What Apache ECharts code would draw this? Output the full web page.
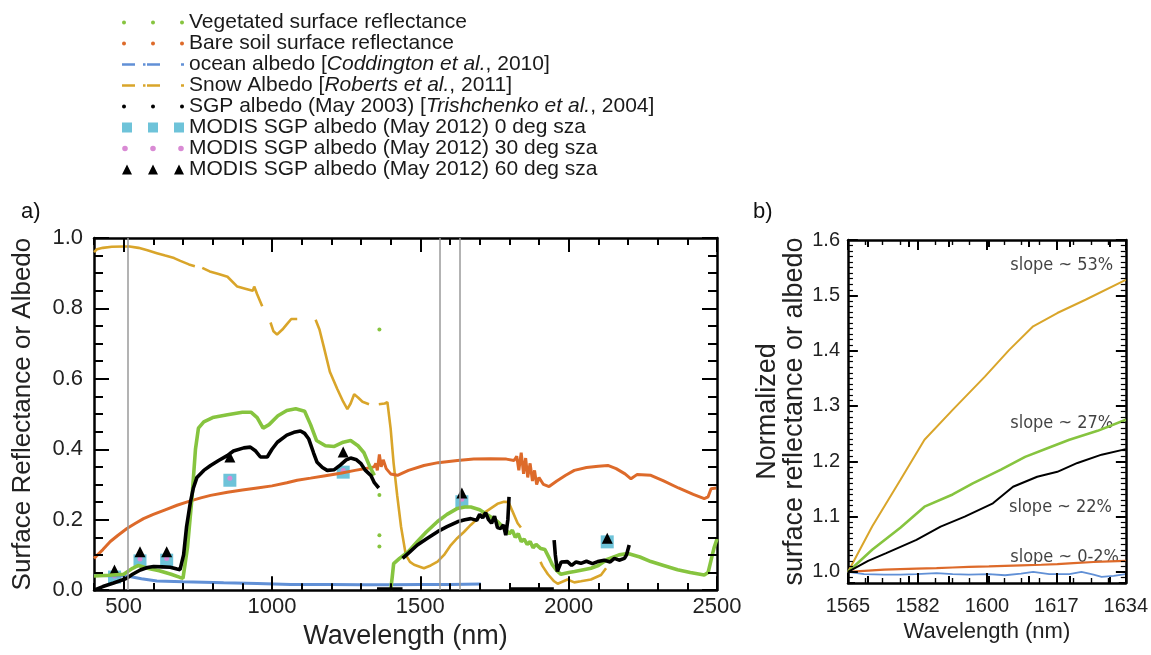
<!DOCTYPE html>
<html>
<head>
<meta charset="utf-8">
<title>Surface reflectance and albedo</title>
<script src="https://cdn.jsdelivr.net/npm/echarts@6/dist/echarts.min.js"></script>
<style>
  html, body { margin: 0; padding: 0; background: #fff; }
  #chart { width: 1151px; height: 655px; }
</style>
</head>
<body>
<div id="chart"></div>
<script>
// ---------- panel a: spectra [wavelength nm, value], null = gap ----------
const vegetated = [
  [400,0.040],[450,0.042],[500,0.045],[530,0.062],[550,0.070],[580,0.062],[620,0.055],[660,0.045],
  [690,0.036],[700,0.034],[715,0.12],[730,0.26],[742,0.40],[752,0.46],[770,0.478],[800,0.49],
  [850,0.498],[900,0.505],[930,0.505],[950,0.49],[970,0.46],[990,0.47],[1020,0.495],[1050,0.51],
  [1080,0.515],[1110,0.508],[1130,0.47],[1150,0.425],[1180,0.41],[1210,0.408],[1240,0.42],
  [1265,0.425],[1290,0.41],[1310,0.39],[1330,0.35],[1345,0.326],[1350,null],
  [1400,0.0],[1405,0.035],[1410,0.075],[1430,0.09],[1460,0.11],[1490,0.138],[1520,0.165],
  [1558,0.195],[1590,0.215],[1625,0.232],[1650,0.236],[1670,0.236],[1700,0.228],[1730,0.212],
  [1760,0.195],[1790,0.17],[1800,0.16],[1810,0.17],[1820,0.15],[1830,0.16],[1840,0.138],
  [1850,0.145],[1860,0.13],[1870,0.138],[1880,0.12],[1890,0.13],[1906,0.118],[1920,0.115],
  [1935,0.09],[1945,0.072],[1960,0.055],[1974,0.045],[2000,0.05],[2020,0.053],[2050,0.058],
  [2075,0.062],[2100,0.07],[2132,0.088],[2170,0.1],[2200,0.104],[2240,0.094],[2277,0.081],
  [2320,0.07],[2367,0.058],[2410,0.05],[2457,0.043],[2470,0.05],[2480,0.085],[2490,0.12],[2500,0.145]
];
const vegetatedDots = [[1362,0.74],[1362,0.27],[1362,0.156],[1362,0.124]];

const bareSoil = [
  [400,0.09],[430,0.115],[455,0.138],[480,0.155],[511,0.175],[540,0.19],[567,0.203],[600,0.215],
  [640,0.228],[680,0.241],[720,0.252],[760,0.262],[793,0.269],[850,0.278],[900,0.284],[950,0.29],
  [1000,0.296],[1050,0.305],[1085,0.312],[1130,0.318],[1180,0.325],[1231,0.332],[1280,0.34],
  [1320,0.346],[1344,0.35],[1350,0.36],[1355,0.34],[1362,0.385],[1368,0.35],[1375,0.37],
  [1385,0.345],[1400,0.33],[1423,0.326],[1460,0.34],[1512,0.354],[1560,0.362],[1625,0.368],
  [1680,0.372],[1737,0.373],[1790,0.372],[1816,0.368],[1825,0.38],[1832,0.34],[1840,0.39],
  [1848,0.33],[1855,0.375],[1862,0.32],[1870,0.36],[1878,0.31],[1885,0.34],[1892,0.3],[1900,0.32],
  [1915,0.3],[1934,0.294],[1960,0.31],[1990,0.326],[2019,0.34],[2060,0.348],[2100,0.352],
  [2132,0.354],[2160,0.345],[2190,0.33],[2210,0.316],[2230,0.328],[2277,0.326],[2320,0.31],
  [2370,0.29],[2420,0.272],[2457,0.26],[2470,0.265],[2480,0.288],[2497,0.29]
];

const oceanAlbedo = [
  [400,0.042],[450,0.041],[511,0.04],[560,0.032],[612,0.026],[700,0.024],[837,0.021],[950,0.019],
  [1063,0.016],[1200,0.016],[1300,0.015],[1400,0.015],[1500,0.016],[1600,0.016],[1704,0.017]
];

const snowAlbedo = [
  [400,0.96],[410,0.968],[430,0.972],[460,0.975],[500,0.976],[520,0.976],[550,0.972],[580,0.965],
  [612,0.957],[640,0.95],[670,0.943],[691,0.935],[720,0.925],[740,0.92],[750,null],[765,0.915],
  [790,0.905],[820,0.898],[850,0.89],[883,0.862],[910,0.856],[935,0.85],[940,0.862],[950,0.84],
  [967,0.806],[975,null],[995,0.76],[1005,0.735],[1017,0.726],[1035,0.74],[1051,0.756],[1065,0.77],
  [1085,0.77],[1095,null],[1147,0.768],[1160,0.74],[1174,0.693],[1195,0.62],[1220,0.571],
  [1240,0.535],[1254,0.514],[1265,0.53],[1277,0.556],[1290,0.547],[1305,0.535],[1327,0.528],
  [1335,null],[1360,0.528],[1380,0.53],[1389,0.534],[1400,0.458],[1410,0.36],[1422,0.269],
  [1435,0.18],[1451,0.1],[1465,0.08],[1479,0.072],[1512,0.062],[1535,0.07],[1558,0.081],[1580,0.1],
  [1603,0.128],[1625,0.148],[1647,0.165],[1670,0.185],[1693,0.203],[1720,0.222],[1760,0.245],
  [1782,0.251],[1797,0.25],[1810,0.225],[1828,0.19],[1839,0.178],[1845,null],[1905,0.08],
  [1912,0.068],[1930,0.045],[1951,0.025],[1963,0.018],[1996,0.03],[2019,0.022],[2041,0.025],
  [2075,0.03],[2109,0.043],[2126,0.062]
];

const sgpAlbedo = [
  [400,0.0],[430,0.01],[466,0.02],[500,0.03],[511,0.034],[530,0.045],[556,0.057],[580,0.064],
  [601,0.067],[630,0.066],[657,0.065],[680,0.06],[690,0.058],[702,0.1],[712,0.18],[725,0.25],
  [735,0.29],[747,0.32],[770,0.34],[793,0.354],[820,0.368],[849,0.382],[870,0.395],[905,0.404],
  [927,0.406],[945,0.395],[961,0.378],[984,0.378],[1000,0.4],[1018,0.42],[1050,0.44],[1074,0.448],
  [1096,0.452],[1110,0.445],[1124,0.429],[1140,0.39],[1152,0.363],[1170,0.348],[1186,0.34],
  [1210,0.342],[1230,0.355],[1250,0.37],[1265,0.375],[1285,0.37],[1299,0.36],[1315,0.34],
  [1333,0.326],[1345,0.305],[1360,0.29],[1361,null],
  [1354,0.003],[1440,0.003],[1441,null],
  [1440,0.09],[1460,0.105],[1490,0.128],[1520,0.145],[1558,0.166],[1590,0.18],[1625,0.194],
  [1650,0.2],[1670,0.203],[1690,0.198],[1700,0.215],[1710,0.205],[1720,0.22],[1730,0.2],
  [1740,0.19],[1750,0.21],[1760,0.178],[1771,0.175],[1780,0.185],[1788,0.156],[1795,0.2],
  [1799,0.265],[1800,null],
  [1800,0.003],[1950,0.003],[1951,null],
  [1951,0.142],[1955,0.1],[1962,0.053],[1975,0.08],[1996,0.081],[2010,0.07],[2025,0.08],
  [2041,0.076],[2060,0.082],[2080,0.075],[2098,0.081],[2120,0.085],[2140,0.08],[2154,0.09],
  [2170,0.085],[2188,0.09],[2195,0.1],[2204,0.128]
];

const modisBands = [469, 555, 645, 858, 1240, 1640, 2130];
const modisSza0  = [0.037, 0.083, 0.085, 0.312, 0.335, 0.251, 0.137];
const modisSza30 = [0.040, 0.088, 0.090, 0.318, 0.340, 0.258, 0.140];
const modisSza60 = [0.057, 0.109, 0.109, 0.378, 0.392, 0.276, 0.147];

const markWavelengths = [515, 1565, 1634];
const xMajorTicksA = [500, 1000, 1500, 2000, 2500];

// ---------- panel b: normalized values 1565-1634 nm ----------
const snowNorm = [
  [1565,1.0],[1571,1.082],[1578,1.166],[1584,1.239],[1591,1.293],[1599,1.353],[1605,1.401],
  [1611,1.444],[1617,1.468],[1624,1.492],[1634,1.528]
];
const vegNorm = [
  [1565,1.0],[1571,1.04],[1578,1.08],[1584,1.118],[1591,1.14],[1596,1.16],[1603,1.185],
  [1609,1.208],[1615,1.225],[1620,1.239],[1627,1.255],[1634,1.275]
];
const sgpNorm = [
  [1565,1.0],[1570,1.02],[1574.5,1.034],[1582,1.058],[1588,1.082],[1594,1.1],[1601,1.124],
  [1606,1.154],[1612,1.172],[1617,1.181],[1622,1.197],[1628,1.212],[1634,1.222]
];
const soilNorm = [
  [1565,1.0],[1569,1.002],[1574,1.004],[1578,1.005],[1582,1.006],[1587,1.007],[1591,1.008],
  [1595,1.009],[1600,1.01],[1604,1.011],[1608,1.012],[1613,1.013],[1617,1.014],[1621,1.016],
  [1626,1.018],[1630,1.019],[1634,1.02]
];
const oceanNorm = [
  [1565,1.0],[1569,0.996],[1574,0.995],[1578,0.995],[1582,0.996],[1587,0.998],[1591,0.996],
  [1595,0.995],[1600,0.996],[1604,0.994],[1608,0.997],[1611,1.0],[1615,0.996],[1620,0.996],
  [1623,1.0],[1626,0.995],[1628,0.991],[1631,0.993],[1634,0.996]
];
const slopeNotes = [
  [1605.3, 1.555, 'slope ~ 53%'],
  [1605.3, 1.268, 'slope ~ 27%'],
  [1605.0, 1.116, 'slope ~ 22%'],
  [1605.3, 1.027, 'slope ~ 0-2%']
];
const xMajorTicksB = [1565, 1582.25, 1599.5, 1616.75, 1634];
const yMajorTicksB = [1.0, 1.1, 1.2, 1.3, 1.4, 1.5, 1.6];

// tick positions for the frame marks
const xTicksA = [];
for (let v = 400; v <= 2500; v += 100) xTicksA.push(v);
const yTicksA = [];
for (let i = 0; i <= 20; i++) yTicksA.push(i * 0.05);
const xTicksB = [];
for (let v = 1565; v <= 1634.001; v += 4.3125) xTicksB.push(v);
const yTicksB = [];
for (let i = 98; i <= 160; i++) yTicksB.push(i / 100);

// ---------- names / colours ----------
const N_VEG = 'Vegetated surface reflectance';
const N_SOIL = 'Bare soil surface reflectance';
const N_OCEAN = 'ocean albedo [Coddington et al., 2010]';
const N_SNOW = 'Snow Albedo [Roberts et al., 2011]';
const N_SGP = 'SGP albedo (May 2003) [Trishchenko et al., 2004]';
const N_M0 = 'MODIS SGP albedo (May 2012) 0 deg sza';
const N_M30 = 'MODIS SGP albedo (May 2012) 30 deg sza';
const N_M60 = 'MODIS SGP albedo (May 2012) 60 deg sza';

const C_VEG = '#86c43f', C_SOIL = '#dd6a2a', C_OCEAN = '#6190d6', C_SNOW = '#d9a52a';
const C_SGP = '#000000', C_M0 = '#6ec3d9', C_M30 = '#d98ad4', C_M60 = '#000000';

const FONT = 'Liberation Sans';
const NARROW = 'DejaVu Sans Condensed';

// legend icons: 62x12 frame, corner moves fix the bounding box
const FRAME = ' M0,0 M62,12';
const ICON_DOTS = 'path://M0,6a2,2 0 1,0 4,0a2,2 0 1,0 -4,0z M29,6a2,2 0 1,0 4,0a2,2 0 1,0 -4,0z M58,6a2,2 0 1,0 4,0a2,2 0 1,0 -4,0z' + FRAME;
const ICON_DASHDOT = 'path://M0,4.8h13v2.4h-13z M21,4.8h2.5v2.4h-2.5z M25,4.8h13v2.4h-13z M59,4.8h3v2.4h-3z' + FRAME;
const ICON_SQUARES = 'path://M0,1h10v10h-10z M26,1h10v10h-10z M52,1h10v10h-10z' + FRAME;
const ICON_CIRCLES = 'path://M0.2,6a2.8,2.8 0 1,0 5.6,0a2.8,2.8 0 1,0 -5.6,0z M28.2,6a2.8,2.8 0 1,0 5.6,0a2.8,2.8 0 1,0 -5.6,0z M56.2,6a2.8,2.8 0 1,0 5.6,0a2.8,2.8 0 1,0 -5.6,0z' + FRAME;
const ICON_TRIS = 'path://M0,11L5,1L10,11z M26,11L31,1L36,11z M52,11L57,1L62,11z' + FRAME;

const withGaps = pts => pts.map(p => (p[1] === null ? [p[0], '-'] : p));

// plot boxes (axis ranges and grid size) used to turn tick lengths into data units
const BOX_A = { x0: 400, x1: 2500, y0: 0, y1: 1, left: 94, top: 238, w: 623, h: 354 };
const BOX_B = { x0: 1565, x1: 1634, y0: 0.98, y1: 1.6, left: 848, top: 240, w: 281, h: 343 };

// inward tick segments on all four sides, as markLine items
function frameTicks(box, xTicks, xStyle, yTicks, yStyle) {
    const ux = (box.x1 - box.x0) / box.w, uy = (box.y1 - box.y0) / box.h;
    const segs = [];
    xTicks.forEach((v, i) => {
        const s = xStyle(v, i);
        const ls = { color: '#000', width: s[1], type: 'solid' };
        segs.push([{ coord: [v, box.y0], lineStyle: ls }, { coord: [v, box.y0 + s[0] * uy] }]);
        segs.push([{ coord: [v, box.y1], lineStyle: ls }, { coord: [v, box.y1 - s[0] * uy] }]);
    });
    yTicks.forEach((v, i) => {
        const s = yStyle(v, i);
        const ls = { color: '#000', width: s[1], type: 'solid' };
        segs.push([{ coord: [box.x0, v], lineStyle: ls }, { coord: [box.x0 + s[0] * ux, v] }]);
        segs.push([{ coord: [box.x1, v], lineStyle: ls }, { coord: [box.x1 - s[0] * ux, v] }]);
    });
    return segs;
}
const ticksA = frameTicks(BOX_A,
    xTicksA, v => (v % 500 === 0 ? [14, 2] : [7, 2]),
    yTicksA, (v, i) => (i % 4 === 0 ? [15, 2] : [9, 2]));
const ticksB = frameTicks(BOX_B,
    xTicksB, (v, i) => (i % 4 === 0 ? [10, 2] : [5, 1.4]),
    yTicksB, (v, i) => ((98 + i) % 10 === 0 && v >= 1 ? [10, 2] : [5, 1.2]));

function line(name, data, color, width, xi, yi, extra) {
    return Object.assign({
        name: name,
        type: 'line',
        xAxisIndex: xi,
        yAxisIndex: yi,
        data: withGaps(data),
        showSymbol: false,
        itemStyle: { color: color },
        lineStyle: { color: color, width: width }
    }, extra || {});
}

function modis(name, values, symbol, size, color) {
    return {
        name: name,
        type: 'scatter',
        xAxisIndex: 0,
        yAxisIndex: 0,
        symbol: symbol,
        symbolSize: size,
        itemStyle: { color: color, opacity: 1 },
        data: modisBands.map((w, i) => [w, values[i]])
    };
}

function marks(items) {
    return {
        silent: true,
        animation: false,
        symbol: ['none', 'none'],
        label: { show: false },
        emphasis: { disabled: true },
        lineStyle: { color: '#9a9a9a', width: 1.5, type: 'solid' },
        data: items
    };
}

// axes: labels and frame lines only
const AXIS_LINE = { show: true, onZero: false, lineStyle: { color: '#000', width: 2.5 } };
function ax(grid, pos, min, max, labels, extra) {
    return Object.assign({
        type: 'value', gridIndex: grid, position: pos, min: min, max: max,
        axisLine: AXIS_LINE,
        axisTick: { show: true, inside: true, length: 7, lineStyle: { color: '#000', width: 2 } },
        axisLabel: labels || { show: false },
        splitLine: { show: false }
    }, extra || {});
}

const chart = echarts.init(document.getElementById('chart'));

const option = {
    animation: false,
    title: [
        { text: 'a)', left: 21, top: 201, padding: 0, textStyle: { fontSize: 22, fontWeight: 'normal', color: '#111', fontFamily: FONT } },
        { text: 'b)', left: 753, top: 201, padding: 0, textStyle: { fontSize: 22, fontWeight: 'normal', color: '#111', fontFamily: FONT } }
    ],
    legend: {
        orient: 'vertical',
        left: 122,
        top: 12,
        padding: 0,
        itemGap: 0,
        itemWidth: 62,
        itemHeight: 12,
        selectedMode: false,
        itemStyle: { borderWidth: 0 },
        textStyle: {
            fontSize: 21, lineHeight: 20.6, color: '#1a1a1a', fontFamily: FONT,
            rich: { i: { fontSize: 21, lineHeight: 20.6, fontStyle: 'italic', color: '#1a1a1a', fontFamily: FONT } }
        },
        formatter: name => name.replace(/\[(.+?),/, '[{i|$1},'),
        data: [
            { name: N_VEG, icon: ICON_DOTS },
            { name: N_SOIL, icon: ICON_DOTS },
            { name: N_OCEAN, icon: ICON_DASHDOT },
            { name: N_SNOW, icon: ICON_DASHDOT },
            { name: N_SGP, icon: ICON_DOTS },
            { name: N_M0, icon: ICON_SQUARES },
            { name: N_M30, icon: ICON_CIRCLES },
            { name: N_M60, icon: ICON_TRIS }
        ]
    },
    grid: [
        { left: BOX_A.left, top: BOX_A.top, width: BOX_A.w, height: BOX_A.h },
        { left: BOX_B.left, top: BOX_B.top, width: BOX_B.w, height: BOX_B.h }
    ],
    xAxis: [
        ax(0, 'bottom', BOX_A.x0, BOX_A.x1,
            { show: true, customValues: xMajorTicksA, fontSize: 22, color: '#222', margin: 6, fontFamily: FONT,
              formatter: v => String(v) },
            { interval: 100, name: 'Wavelength (nm)', nameLocation: 'middle', nameGap: 30,
              nameTextStyle: { fontSize: 27, color: '#222', fontFamily: FONT } }),
        ax(0, 'top', BOX_A.x0, BOX_A.x1, null, { interval: 100 }),
        ax(1, 'bottom', BOX_B.x0, BOX_B.x1,
            { show: true, customValues: xMajorTicksB, fontSize: 20, color: '#222', margin: 13, fontFamily: FONT,
              formatter: v => String(Math.round(v)) },
            { name: 'Wavelength (nm)', nameLocation: 'middle', nameGap: 36,
              nameTextStyle: { fontSize: 22, color: '#222', fontFamily: FONT } }),
        ax(1, 'top', BOX_B.x0, BOX_B.x1)
    ],
    yAxis: [
        ax(0, 'left', BOX_A.y0, BOX_A.y1,
            { show: true, fontSize: 22, color: '#222', margin: 11, fontFamily: FONT, formatter: v => v.toFixed(1) },
            { interval: 0.2, name: 'Surface Reflectance or Albedo', nameLocation: 'middle', nameGap: 58,
              nameTextStyle: { fontSize: 26, color: '#222', fontFamily: FONT } }),
        ax(0, 'right', BOX_A.y0, BOX_A.y1, null, { interval: 0.2 }),
        ax(1, 'left', BOX_B.y0, BOX_B.y1,
            { show: true, customValues: yMajorTicksB, fontSize: 20, color: '#222', margin: 8, fontFamily: FONT,
              formatter: v => v.toFixed(1) },
            { name: 'Normalized\nsurface reflectance or albedo', nameLocation: 'middle', nameGap: 31,
              nameTextStyle: { fontSize: 27, lineHeight: 27, color: '#222', fontFamily: FONT } }),
        ax(1, 'right', BOX_B.y0, BOX_B.y1)
    ],
    series: [
        // panel a
        line(N_OCEAN, oceanAlbedo, C_OCEAN, 3, 0, 0, {
            markLine: marks(markWavelengths.map(w => ({ xAxis: w })).concat(ticksA))
        }),
        line(N_SNOW, snowAlbedo, C_SNOW, 2.6, 0, 0),
        line(N_SOIL, bareSoil, C_SOIL, 3, 0, 0),
        line(N_VEG, vegetated, C_VEG, 3.6, 0, 0),
        {
            name: N_VEG, type: 'scatter', xAxisIndex: 0, yAxisIndex: 0,
            symbolSize: 4, itemStyle: { color: C_VEG, opacity: 1 }, data: vegetatedDots
        },
        line(N_SGP, sgpAlbedo, C_SGP, 3.6, 0, 0),
        modis(N_M0, modisSza0, 'rect', 13, C_M0),
        modis(N_M30, modisSza30, 'circle', 5, C_M30),
        modis(N_M60, modisSza60, 'triangle', 11, C_M60),
        // panel b
        line(N_OCEAN, oceanNorm, C_OCEAN, 1.8, 2, 2, { markLine: marks(ticksB) }),
        line(N_SOIL, soilNorm, C_SOIL, 2.2, 2, 2),
        line(N_SNOW, snowNorm, C_SNOW, 2, 2, 2),
        line(N_VEG, vegNorm, C_VEG, 2.6, 2, 2),
        line(N_SGP, sgpNorm, C_SGP, 2, 2, 2),
        {
            name: 'slope notes',
            type: 'scatter',
            xAxisIndex: 2,
            yAxisIndex: 2,
            symbolSize: 0,
            data: slopeNotes,
            label: {
                show: true,
                position: 'right',
                distance: 0,
                formatter: p => p.value[2],
                fontSize: 18,
                color: '#111',
                fontFamily: NARROW
            }
        }
    ]
};

chart.setOption(option);
</script>
</body>
</html>
